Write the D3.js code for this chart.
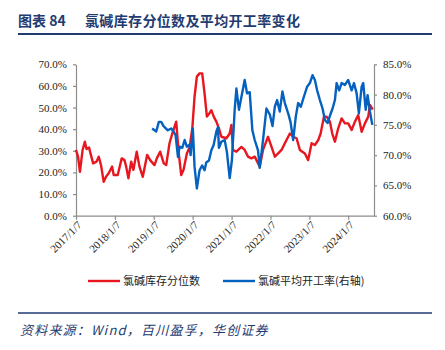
<!DOCTYPE html>
<html>
<head>
<meta charset="utf-8">
<script src="https://cdn.jsdelivr.net/npm/d3@7"></script>
<style>
  html, body { margin: 0; padding: 0; background: #fff; }
  svg { display: block; }
  .axis path, .axis line { stroke: #8c8c8c; stroke-width: 1.2; }
  .axis text { font-family: "Liberation Serif", "DejaVu Serif", serif; font-size: 11px; fill: #222; }
</style>
</head>
<body>
<script>
// Data: [date, value in %]
const inventoryPct = [
  ["2017-01-07", 30.4], ["2017-01-26", 27.3], ["2017-02-13", 20.3], ["2017-03-10", 30.4],
  ["2017-03-31", 34.2], ["2017-04-16", 30.8], ["2017-05-10", 31.5], ["2017-05-23", 28.8],
  ["2017-06-17", 24.2], ["2017-07-19", 25.0], ["2017-08-08", 27.3], ["2017-08-30", 23.4],
  ["2017-09-24", 15.7], ["2017-10-16", 18.0], ["2017-11-10", 19.6], ["2017-12-12", 22.7],
  ["2017-12-27", 18.8], ["2018-02-03", 18.8], ["2018-03-12", 26.5], ["2018-04-07", 25.7],
  ["2018-04-23", 22.7], ["2018-05-14", 17.3], ["2018-06-09", 25.0], ["2018-06-30", 21.2],
  ["2018-07-31", 29.6], ["2018-08-26", 22.7], ["2018-09-26", 18.0], ["2018-11-06", 28.1],
  ["2018-12-04", 25.7], ["2019-01-14", 23.4], ["2019-02-05", 26.5], ["2019-03-08", 29.6],
  ["2019-04-11", 24.2], ["2019-05-04", 23.4], ["2019-06-04", 33.5], ["2019-07-05", 38.8],
  ["2019-08-06", 43.5], ["2019-08-28", 29.6], ["2019-09-22", 18.8], ["2019-10-14", 21.2],
  ["2019-11-14", 28.8], ["2019-12-09", 31.5], ["2020-01-04", 40.4], ["2020-01-25", 55.0],
  ["2020-02-16", 64.3], ["2020-03-12", 65.8], ["2020-04-06", 65.8], ["2020-04-28", 56.6],
  ["2020-05-20", 45.8], ["2020-06-15", 47.5], ["2020-07-01", 48.8], ["2020-07-23", 45.8],
  ["2020-08-17", 43.5], ["2020-09-10", 40.4], ["2020-10-03", 36.5], ["2020-11-19", 35.8],
  ["2020-12-20", 38.0], ["2021-01-05", 42.0], ["2021-01-20", 30.4], ["2021-02-21", 29.6],
  ["2021-04-09", 31.8], ["2021-05-10", 30.4], ["2021-06-10", 27.3], ["2021-07-12", 26.5],
  ["2021-08-12", 27.3], ["2021-09-28", 22.7], ["2021-10-29", 30.4], ["2021-12-15", 36.5],
  ["2022-01-17", 31.8], ["2022-02-17", 27.3], ["2022-03-20", 28.8], ["2022-04-21", 30.4],
  ["2022-05-22", 33.5], ["2022-07-08", 38.0], ["2022-08-08", 36.5], ["2022-09-09", 35.8],
  ["2022-10-10", 30.4], ["2022-11-26", 28.8], ["2022-12-27", 25.7], ["2023-01-28", 33.5],
  ["2023-02-28", 32.7], ["2023-04-01", 35.0], ["2023-04-23", 38.0], ["2023-05-24", 45.8],
  ["2023-06-18", 45.8], ["2023-07-19", 43.5], ["2023-08-10", 38.0], ["2023-09-04", 34.2],
  ["2023-10-05", 40.4], ["2023-11-06", 45.0], ["2023-12-07", 42.7], ["2024-01-07", 42.7],
  ["2024-02-08", 39.6], ["2024-03-10", 43.5], ["2024-04-10", 46.5], ["2024-05-12", 38.8],
  ["2024-06-12", 42.7], ["2024-07-13", 45.8], ["2024-07-29", 51.2], ["2024-08-24", 49.0]
];

const utilizationPct = [
  ["2018-12-23", 74.4], ["2019-01-30", 73.9], ["2019-02-24", 75.5], ["2019-03-18", 75.5],
  ["2019-04-09", 74.8], ["2019-05-19", 74.1], ["2019-06-20", 74.4], ["2019-07-12", 73.9],
  ["2019-07-31", 73.3], ["2019-08-22", 69.7], ["2019-09-07", 71.4], ["2019-10-02", 71.2],
  ["2019-10-24", 72.5], ["2019-11-14", 71.4], ["2019-12-09", 71.7], ["2019-12-19", 70.0],
  ["2020-01-09", 74.4], ["2020-01-25", 68.1], ["2020-02-16", 64.5], ["2020-03-12", 67.5],
  ["2020-04-06", 68.3], ["2020-04-28", 67.5], ["2020-05-14", 68.8], ["2020-06-08", 69.1],
  ["2020-07-01", 70.8], ["2020-07-23", 71.7], ["2020-08-17", 73.9], ["2020-09-01", 74.6],
  ["2020-09-10", 71.2], ["2020-10-03", 72.2], ["2020-11-03", 72.5], ["2020-11-24", 70.5],
  ["2020-12-20", 66.2], ["2021-01-10", 69.2], ["2021-02-05", 77.5], ["2021-02-21", 81.0],
  ["2021-03-17", 77.5], ["2021-04-09", 79.6], ["2021-05-10", 82.4], ["2021-06-01", 80.2],
  ["2021-06-26", 80.4], ["2021-07-21", 74.1], ["2021-08-12", 72.5], ["2021-09-12", 70.8],
  ["2021-09-28", 67.9], ["2021-10-29", 72.5], ["2021-11-30", 77.7], ["2022-01-01", 76.7],
  ["2022-01-26", 74.8], ["2022-02-17", 78.0], ["2022-03-10", 79.1], ["2022-04-04", 77.2],
  ["2022-04-29", 80.5], ["2022-05-22", 78.6], ["2022-06-22", 76.9], ["2022-07-14", 75.5],
  ["2022-08-08", 72.5], ["2022-09-02", 76.4], ["2022-09-24", 78.6], ["2022-10-19", 78.0],
  ["2022-11-16", 79.6], ["2022-12-17", 81.3], ["2023-01-12", 81.9], ["2023-02-06", 83.2],
  ["2023-02-28", 82.4], ["2023-03-21", 80.7], ["2023-04-16", 79.1], ["2023-05-11", 77.7],
  ["2023-06-02", 75.8], ["2023-06-27", 75.3], ["2023-07-19", 76.5], ["2023-08-13", 77.7],
  ["2023-09-04", 79.1], ["2023-09-20", 81.9], ["2023-10-14", 80.7], ["2023-11-06", 81.9],
  ["2023-12-07", 81.6], ["2024-01-07", 82.4], ["2024-02-08", 80.7], ["2024-03-01", 81.9],
  ["2024-03-26", 80.2], ["2024-04-16", 76.9], ["2024-05-12", 81.3], ["2024-05-27", 81.9],
  ["2024-06-19", 77.5], ["2024-07-07", 79.9], ["2024-07-29", 77.2], ["2024-08-20", 75.0]
];

const xTicks = ["2017-01-07", "2018-01-07", "2019-01-07", "2020-01-07",
                "2021-01-07", "2022-01-07", "2023-01-07", "2024-01-07"];
const leftTicks = [0, 10, 20, 30, 40, 50, 60, 70];
const rightTicks = [60, 65, 70, 75, 80, 85];
const xDomain = ["2017-01-07", "2024-09-05"];

const seriesNames = ["氯碱库存分位数", "氯碱平均开工率(右轴)"];
const titleLabel = "图表 84";
const titleText = "氯碱库存分位数及平均开工率变化";
const sourceText = "资料来源：Wind，百川盈孚，华创证券";

const RED = "#e8161f";
const BLUE = "#0461bf";
const NAVY = "#1f3b70";

const W = 445, H = 350;
const plot = { left: 76, right: 374, top: 64.3, bottom: 215.7 };

const parse = d3.timeParse("%Y-%m-%d");
const fmtTick = d3.timeFormat("%Y/%-m/%-d");

const svg = d3.select("body").append("svg").attr("width", W).attr("height", H);

// Title block
const title = svg.append("g")
  .attr("font-family", "'Noto Sans CJK SC', sans-serif")
  .attr("font-size", 14).attr("font-weight", "bold")
  .attr("fill", NAVY);
title.append("text").attr("x", 18).attr("y", 26).text(titleLabel);
title.append("text").attr("x", 85).attr("y", 26).attr("letter-spacing", 0.35).text(titleText);
svg.append("line")
  .attr("x1", 18).attr("x2", 432).attr("y1", 34).attr("y2", 34)
  .attr("stroke", NAVY).attr("stroke-width", 2);

// Scales
const x = d3.scaleTime().domain(xDomain.map(parse)).range([plot.left, plot.right]);
const yL = d3.scaleLinear().domain([0, 70]).range([plot.bottom, plot.top]);
const yR = d3.scaleLinear().domain([60, 85]).range([plot.bottom, plot.top]);

const pctFmt = (d) => d.toFixed(1) + "%";

// Axes
svg.append("g").attr("class", "axis")
  .attr("transform", `translate(${plot.left},0)`)
  .call(d3.axisLeft(yL).tickValues(leftTicks).tickFormat(pctFmt).tickSize(3).tickSizeOuter(0).tickPadding(6));

svg.append("g").attr("class", "axis")
  .attr("transform", `translate(${plot.right},0)`)
  .call(d3.axisRight(yR).tickValues(rightTicks).tickFormat(pctFmt).tickSize(3).tickSizeOuter(0).tickPadding(6));

const xAxis = svg.append("g").attr("class", "axis")
  .attr("transform", `translate(0,${plot.bottom})`)
  .call(d3.axisBottom(x).tickValues(xTicks.map(parse)).tickFormat(fmtTick).tickSize(4).tickSizeOuter(0));
xAxis.selectAll("text")
  .attr("text-anchor", "end")
  .attr("dy", null)
  .attr("y", 0)
  .attr("transform", "translate(6,10) rotate(-45)");

// Lines
const lineL = d3.line().x((d) => x(parse(d[0]))).y((d) => yL(d[1]));
const lineR = d3.line().x((d) => x(parse(d[0]))).y((d) => yR(d[1]));

svg.append("path").datum(inventoryPct)
  .attr("d", lineL).attr("fill", "none")
  .attr("stroke", RED).attr("stroke-width", 2.4).attr("stroke-linejoin", "round");
svg.append("path").datum(utilizationPct)
  .attr("d", lineR).attr("fill", "none")
  .attr("stroke", BLUE).attr("stroke-width", 2.4).attr("stroke-linejoin", "round");

// Legend
const legend = svg.append("g").attr("font-family", "'Noto Sans CJK SC', sans-serif").attr("font-size", 11);
[[88, RED, seriesNames[0]], [223, BLUE, seriesNames[1]]].forEach(([lx, c, name]) => {
  legend.append("line").attr("x1", lx).attr("x2", lx + 32).attr("y1", 281).attr("y2", 281)
    .attr("stroke", c).attr("stroke-width", 2.4);
  legend.append("text").attr("x", lx + 35).attr("y", 285).attr("fill", "#222").text(name);
});

// Source footer
svg.append("line")
  .attr("x1", 18).attr("x2", 432).attr("y1", 313).attr("y2", 313)
  .attr("stroke", NAVY).attr("stroke-width", 1.5);
svg.append("text")
  .attr("x", 20).attr("y", 335)
  .attr("font-family", "'Noto Sans CJK SC', sans-serif")
  .attr("font-size", 13).attr("font-style", "italic")
  .attr("letter-spacing", 1.2)
  .attr("fill", NAVY)
  .text(sourceText);
</script>
</body>
</html>
